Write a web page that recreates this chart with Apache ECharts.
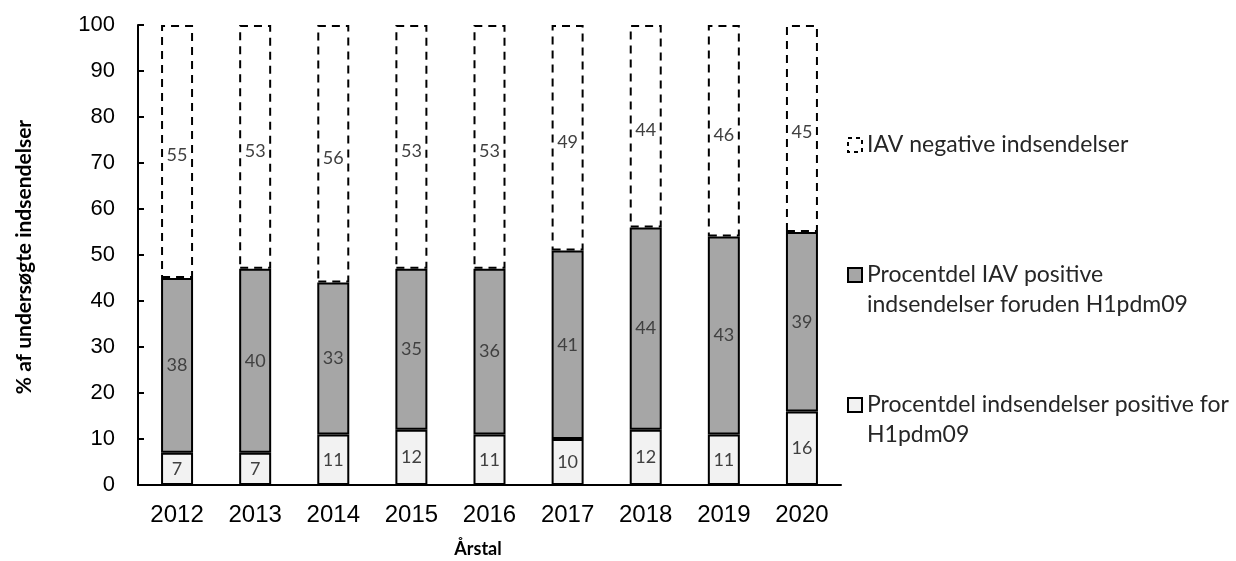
<!DOCTYPE html>
<html>
<head>
<meta charset="utf-8">
<script src="https://cdn.jsdelivr.net/npm/echarts@6/dist/echarts.min.js"></script>
<style>
  html, body { margin: 0; padding: 0; background: #fff; }
  #chart { width: 1236px; height: 561px; }
</style>
</head>
<body>
<div id="chart"></div>
<script>
// Andel af undersøgte indsendelser pr. år (%)
const years = ['2012', '2013', '2014', '2015', '2016', '2017', '2018', '2019', '2020'];
const h1pdm09Positive = [7, 7, 11, 12, 11, 10, 12, 11, 16];
const otherIavPositive = [38, 40, 33, 35, 36, 41, 44, 43, 39];
const iavNegative = [55, 53, 56, 53, 53, 49, 44, 46, 45];
const yTicks = { min: 0, max: 100, interval: 10 };

const seriesNames = [
  'IAV negative indsendelser',
  'Procentdel IAV positive\nindsendelser foruden H1pdm09',
  'Procentdel indsendelser positive for\nH1pdm09'
];

const labelStyle = {
  show: true,
  position: 'inside',
  color: '#404040',
  fontFamily: 'Lato',
  fontSize: 18
};

const chart = echarts.init(document.getElementById('chart'), null, { renderer: 'canvas' });

// One legend block per series; the icon sits beside the first text line.
function legendFor(name, top, dashed) {
  const item = { name: name };
  if (dashed) {
    item.itemStyle = { color: '#fff', borderColor: '#000', borderWidth: 2, borderType: [4, 4] };
  }
  const lines = name.split('\n');
  return {
    data: [item],
    left: 847,
    top: top,
    orient: 'vertical',
    padding: 0,
    icon: 'rect',
    itemWidth: 14,
    itemHeight: 14,
    itemGap: 7,
    selectedMode: false,
    formatter: function (n) {
      const parts = n.split('\n').map(function (s) { return '{t|' + s + '}'; });
      if (parts.length > 1) {
        parts.unshift('{e| }');
      }
      return parts.join('\n');
    },
    textStyle: {
      fontFamily: 'Lato',
      fontSize: 23,
      color: '#262626',
      lineHeight: 30,
      rich: {
        t: { fontFamily: 'Lato', fontSize: 23, color: '#262626', lineHeight: 30 },
        e: { fontFamily: 'Lato', fontSize: 23, lineHeight: 30 * (lines.length - 1) }
      }
    }
  };
}

chart.setOption({
  animation: false,
  grid: { left: 138, right: 395, top: 25, bottom: 76, containLabel: false },
  legend: [
    legendFor(seriesNames[0], 130, true),
    legendFor(seriesNames[1], 230, false),
    legendFor(seriesNames[2], 360, false)
  ],
  xAxis: {
    type: 'category',
    data: years,
    axisLine: { lineStyle: { color: '#000', width: 2 } },
    axisTick: { show: false },
    axisLabel: {
      margin: 18,
      fontFamily: 'Liberation Sans',
      fontSize: 24,
      color: '#000'
    }
  },
  yAxis: {
    type: 'value',
    min: yTicks.min,
    max: yTicks.max,
    interval: yTicks.interval,
    splitLine: { show: false },
    axisLine: { show: true, lineStyle: { color: '#000', width: 2 } },
    axisTick: { show: true, inside: true, length: 6, lineStyle: { color: '#000', width: 2 } },
    axisLabel: {
      margin: 23,
      fontFamily: 'Liberation Sans',
      fontSize: 22,
      color: '#000'
    }
  },
  graphic: [
    {
      type: 'text',
      x: 24,
      y: 257,
      rotation: Math.PI / 2,
      style: {
        text: '% af undersøgte indsendelser',
        align: 'center',
        verticalAlign: 'middle',
        font: 'bold 21px Lato',
        fill: '#000'
      }
    },
    {
      type: 'text',
      x: 478,
      y: 549,
      style: {
        text: 'Årstal',
        align: 'center',
        verticalAlign: 'middle',
        font: 'bold 18px Lato',
        fill: '#000'
      }
    }
  ],
  series: [
    {
      name: seriesNames[2],
      type: 'bar',
      stack: 'total',
      barWidth: 32,
      z: 6,
      data: h1pdm09Positive,
      itemStyle: { color: '#f2f2f2', borderColor: '#000', borderWidth: 2 },
      label: labelStyle
    },
    {
      name: seriesNames[1],
      type: 'bar',
      stack: 'total',
      barWidth: 32,
      z: 5,
      data: otherIavPositive,
      itemStyle: { color: '#a6a6a6', borderColor: '#000', borderWidth: 2 },
      label: labelStyle
    },
    {
      // dashed outline drawn beneath the solid segments so their edges stay clean
      name: seriesNames[0],
      type: 'bar',
      stack: 'total',
      barWidth: 32,
      z: 1,
      data: iavNegative,
      itemStyle: { color: '#fff', borderColor: '#000', borderWidth: 2, borderType: [8, 6] },
      label: Object.assign({}, labelStyle, { offset: [0, 4] })
    }
  ]
});
</script>
</body>
</html>
